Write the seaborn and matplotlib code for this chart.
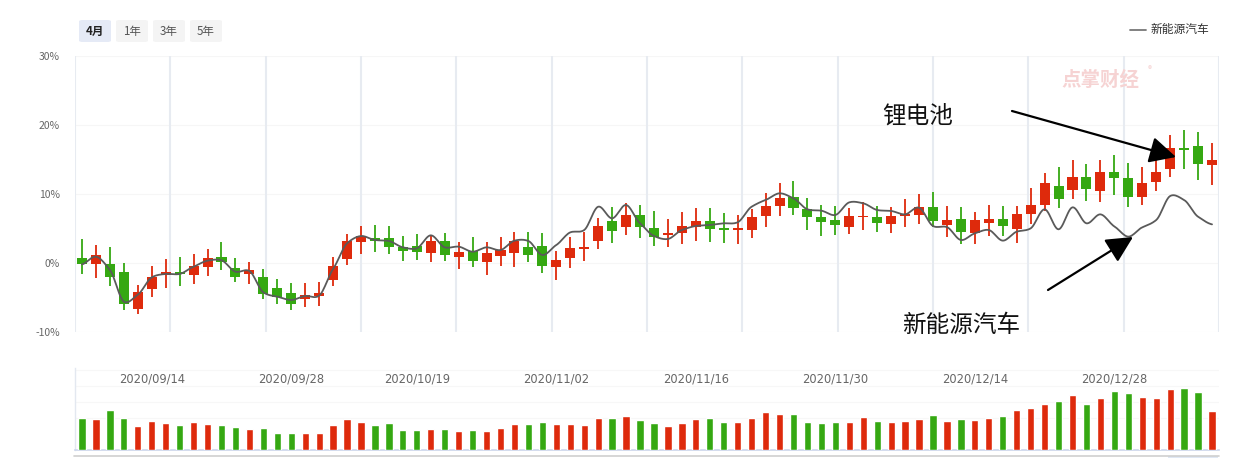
import numpy as np
import pandas as pd
import matplotlib
matplotlib.use("Agg")
import matplotlib.pyplot as plt
import seaborn as sns
from matplotlib.patches import FancyBboxPatch, FancyArrowPatch
from matplotlib.lines import Line2D
import matplotlib.transforms as mtransforms

# ---------------- data ----------------
opens = [0.72, -0.10, -0.14, -1.30, -6.62, -3.72, -1.69, -1.30, -1.69, -0.53,
         0.87, -0.72, -1.55, -2.03, -3.62, -4.35, -5.22, -4.78, -2.42, 0.63,
         3.09, 3.62, 3.62, 2.37, 2.46, 1.50, 3.19, 0.92, 1.74, 0.19,
         1.06, 1.50, 2.32, 2.46, -0.53, 0.77, 2.08, 3.24, 6.09, 5.27,
         6.96, 5.07, 4.11, 4.40, 5.27, 6.09, 5.07, 4.83, 4.83, 6.86,
         8.31, 9.57, 7.83, 6.67, 6.23, 5.27, 6.67, 6.67, 5.70, 6.86,
         7.00, 8.12, 5.56, 6.38, 4.40, 5.84, 6.38, 4.98, 7.15, 8.45,
         11.16, 10.63, 12.46, 10.48, 13.19, 12.32, 9.61, 11.79, 13.67, 16.67,
         16.96, 14.25]
closes = [-0.19, 1.16, -1.98, -5.89, -4.20, -2.03, -1.30, -1.64, -0.43, 0.72,
          0.19, -1.98, -1.06, -4.49, -4.93, -5.89, -4.64, -4.35, -0.43, 3.19,
          3.91, 3.24, 2.37, 1.79, 1.64, 3.19, 1.21, 1.64, 0.34, 1.45,
          1.88, 3.19, 1.21, -0.39, 0.43, 2.17, 2.32, 5.36, 4.69, 6.96,
          5.27, 3.82, 4.40, 5.36, 6.09, 4.98, 4.83, 5.07, 6.67, 8.26,
          9.42, 8.02, 6.72, 5.99, 5.56, 6.81, 6.81, 5.85, 6.81, 7.10,
          8.12, 6.14, 6.23, 4.54, 6.23, 6.38, 5.41, 7.10, 8.41, 11.59,
          9.32, 12.46, 10.77, 13.19, 12.37, 9.61, 11.59, 13.19, 16.67, 16.43,
          14.40, 14.93]
highs = [3.48, 2.61, 2.32, 0.00, -3.24, -0.43, 0.58, 0.87, 1.30, 2.03,
         3.04, 0.72, 0.14, -0.87, -2.32, -2.90, -2.90, -2.70, 0.87, 4.25,
         5.36, 5.51, 5.36, 3.91, 4.20, 3.91, 4.35, 3.04, 3.77, 3.04,
         3.77, 4.49, 4.49, 4.35, 1.79, 3.77, 4.49, 6.52, 8.12, 8.65,
         8.40, 7.54, 6.38, 7.39, 7.97, 7.97, 7.25, 6.96, 7.83, 10.14,
         11.59, 11.88, 9.42, 8.41, 8.26, 7.97, 8.84, 8.26, 8.12, 9.28,
         10.00, 10.29, 8.26, 8.12, 7.39, 8.41, 8.26, 8.26, 10.87, 13.04,
         13.91, 14.93, 14.35, 14.93, 15.65, 14.49, 13.91, 15.36, 18.55, 19.28,
         18.99, 17.39]
lows = [-1.59, -2.17, -3.33, -6.76, -7.44, -4.93, -3.57, -3.29, -3.00, -1.84,
        -1.01, -2.70, -3.00, -5.22, -5.94, -6.76, -6.38, -6.23, -3.33, -0.29,
        1.35, 1.64, 1.35, 0.34, 0.48, 0.19, 0.34, -0.82, -0.53, -1.69,
        -0.39, -0.53, 0.19, -1.40, -2.42, -0.68, 0.34, 2.08, 2.95, 4.11,
        3.67, 2.51, 2.37, 2.80, 3.24, 3.09, 2.95, 2.80, 3.67, 5.27,
        6.86, 7.00, 4.83, 3.96, 4.11, 4.25, 4.83, 4.54, 4.40, 5.27,
        5.70, 5.27, 3.82, 2.80, 2.80, 3.96, 3.96, 2.95, 5.70, 7.58,
        8.02, 9.28, 8.99, 8.84, 9.86, 8.16, 8.45, 10.48, 12.51, 13.67,
        12.08, 11.35]
nev_line = [-0.20, 0.92, -1.00, -5.60, -4.60, -2.08, -1.59, -1.59, -0.53, 0.34,
            0.39, -1.26, -1.16, -4.25, -4.88, -5.36, -4.78, -4.73, -0.87, 2.85,
            3.91, 3.33, 3.19, 2.27, 2.13, 4.01, 2.27, 2.37, 1.64, 2.27,
            1.88, 3.24, 3.19, 1.16, 2.61, 4.44, 4.78, 8.16, 6.47, 8.41,
            5.75, 3.91, 3.48, 4.78, 5.36, 5.51, 5.75, 5.90, 8.16, 9.13,
            10.10, 9.37, 7.78, 7.58, 6.96, 8.79, 8.65, 7.68, 7.54, 7.05,
            8.02, 5.36, 5.20, 3.33, 4.30, 4.78, 3.24, 4.54, 5.02, 7.78,
            4.88, 8.07, 5.75, 7.05, 5.30, 3.82, 5.17, 6.23, 9.71, 9.13,
            6.71, 5.60]
volumes = [96, 93, 120, 96, 72, 87, 81, 75, 84, 78,
           75, 69, 63, 66, 51, 51, 51, 51, 75, 93,
           84, 75, 81, 60, 60, 63, 63, 57, 60, 57,
           66, 78, 78, 84, 78, 78, 75, 96, 96, 102,
           90, 81, 72, 81, 93, 96, 84, 84, 96, 114,
           108, 108, 84, 81, 84, 84, 99, 87, 84, 87,
           93, 105, 87, 93, 90, 96, 102, 120, 126, 138,
           147, 165, 138, 156, 177, 171, 159, 156, 183, 186,
           174, 117]
date_labels = ["2020/09/14", "2020/09/28", "2020/10/19", "2020/11/02",
               "2020/11/16", "2020/11/30", "2020/12/14", "2020/12/28"]
date_index = [5, 15, 24, 34, 44, 54, 64, 74]
y_ticks = [-10, 0, 10, 20, 30]
y_tick_labels = ["-10%", "0%", "10%", "20%", "30%"]
buttons = ["4月", "1年", "3年", "5年"]
legend_name = "新能源汽车"
annot_battery = "锂电池"
annot_nev = "新能源汽车"

# ---------------- style ----------------
RED = "#de2a0c"
GREEN = "#35a812"
W, H = 1240, 458

sns.set_theme(style="white")
plt.rcParams["font.family"] = ["Noto Sans CJK SC", "DejaVu Sans"]

fig = plt.figure(figsize=(W / 100, H / 100), dpi=100)
fig.patch.set_facecolor("white")

def fx(px):
    return px / W

def fy(py):
    return 1 - py / H

n = len(opens)
idx = np.arange(n)
df = pd.DataFrame({"i": idx, "open": opens, "close": closes, "high": highs,
                   "low": lows, "line": nev_line, "vol": volumes})
df["dir"] = np.where(df["close"] >= df["open"], "up", "down")
pal = {"up": RED, "down": GREEN}

# main axes
left, right = 75, 1219
ax = fig.add_axes([fx(left), fy(332), fx(right - left), (332 - 56) / H])
ax.set_xlim(-0.5, n - 0.5)
ax.set_ylim(-10, 30)
for s in ax.spines.values():
    s.set_visible(False)
ax.set_facecolor("none")
ax.set_yticks(y_ticks)
ax.set_yticklabels(y_tick_labels)
ax.tick_params(axis="y", length=0, pad=11, labelsize=7.5, labelcolor="#666666")
ax.set_xticks([])
for yv in y_ticks:
    ax.axhline(yv, color="#f6f6f6", lw=0.8, zorder=0)
for xv in np.linspace(-0.5, n - 0.5, 13):
    ax.axvline(xv, color="#e7ebf1", lw=1.5, zorder=0)

# candles
colors = [pal[d] for d in df["dir"]]
ax.vlines(df["i"], df["low"], df["high"], colors=colors, lw=1.3, zorder=2)
body_lo = np.minimum(df["open"], df["close"])
body_h = np.maximum(np.abs(df["close"] - df["open"]), 0.12)
ax.bar(df["i"], body_h, bottom=body_lo, width=0.72, color=colors, lw=0, zorder=3)

# smooth line (rendering only)
def smooth_curve(y, k=0.75, m=12):
    y = np.asarray(y, float)
    xs, ys = [], []
    for i in range(len(y) - 1):
        p0 = y[i - 1] if i > 0 else y[i]
        p1, p2 = y[i], y[i + 1]
        p3 = y[i + 2] if i + 2 < len(y) else y[i + 1]
        m1 = k * (p2 - p0) / 2
        m2 = k * (p3 - p1) / 2
        t = np.linspace(0, 1, m, endpoint=False)
        h00 = 2 * t**3 - 3 * t**2 + 1
        h10 = t**3 - 2 * t**2 + t
        h01 = -2 * t**3 + 3 * t**2
        h11 = t**3 - t**2
        xs.extend(i + t)
        ys.extend(h00 * p1 + h10 * m1 + h01 * p2 + h11 * m2)
    xs.append(len(y) - 1)
    ys.append(y[-1])
    return np.array(xs), np.array(ys)

sx, sy = smooth_curve(df["line"])
sns.lineplot(x=sx, y=sy, ax=ax, color="#5a5a5a", lw=1.3, zorder=4,
             estimator=None, sort=False)

# volume axes
axv = fig.add_axes([fx(left), fy(450), fx(right - left), (450 - 368) / H])
sns.barplot(data=df, x="i", y="vol", hue="dir", palette=pal, dodge=False,
            width=0.52, legend=False, ax=axv, saturation=1, zorder=3)
axv.set_xlim(-0.5, n - 0.5)
axv.set_ylim(0, 246)
axv.set_xlabel("")
axv.set_ylabel("")
axv.set_xticks([])
axv.set_yticks([])
axv.set_facecolor("none")
for s in ["top", "right"]:
    axv.spines[s].set_visible(False)
axv.spines["left"].set_color("#e3e8f0")
axv.spines["left"].set_linewidth(1.0)
axv.spines["bottom"].set_color("#ccd6eb")
axv.spines["bottom"].set_linewidth(1.2)
for gv in [96, 144, 192, 240]:
    axv.axhline(gv, color="#f7f7f7", lw=0.8, zorder=0)
trans = mtransforms.blended_transform_factory(axv.transData, fig.transFigure)
for lab, pos in zip(date_labels, date_index):
    axv.text(pos, fy(379), lab, transform=trans, ha="center", va="center",
             fontsize=8.3, color="#666666", family="DejaVu Sans")

# bottom slider line
fig.add_artist(Line2D([fx(74), fx(1219)], [fy(455.5), fy(455.5)],
                      color="#cfcfcf", lw=1.2))
fig.add_artist(FancyBboxPatch((fx(1168), 0), fx(50), fy(455.5) - 0.002,
                              boxstyle="square,pad=0", fc="#dfe7f3", ec="none"))

# buttons
bx = [(79, 111), (116, 148), (153, 185), (190, 222)]
for (x0, x1), lab in zip(bx, buttons):
    fc = "#e5eaf6" if lab == "4月" else "#f4f4f4"
    fig.add_artist(FancyBboxPatch((fx(x0), fy(42)), fx(x1 - x0), (42 - 20) / H,
                                  boxstyle="round,pad=0,rounding_size=0.003",
                                  fc=fc, ec="none"))
    fig.text(fx((x0 + x1) / 2), fy(31), lab, ha="center", va="center",
             fontsize=8.3, color="#222222" if lab == "4月" else "#555555",
             fontweight="bold" if lab == "4月" else "normal")

# legend
fig.add_artist(Line2D([fx(1130), fx(1146)], [fy(30), fy(30)], color="#777777", lw=1.3))
fig.text(fx(1151), fy(30), legend_name, ha="left", va="center", fontsize=8.5,
         color="#333333")

# watermark
fig.text(fx(1100), fy(80), "点掌财经", ha="center", va="center", fontsize=14,
         color="#f6d3d3", fontweight="bold", style="italic")
fig.text(fx(1150), fy(70), "®", ha="center", va="center", fontsize=6, color="#f6d3d3")

# annotations
fig.text(fx(918), fy(116), annot_battery, ha="center", va="center", fontsize=17,
         color="#111111")
fig.text(fx(961), fy(325), annot_nev, ha="center", va="center", fontsize=17,
         color="#111111")
arrow_kw = dict(arrowstyle="-|>,head_length=0.9,head_width=0.45", color="black",
                lw=1.6, shrinkA=0, shrinkB=0, mutation_scale=18)
fig.add_artist(FancyArrowPatch(
    (fx(1012), fy(111)), (fx(1176), fy(157)), transform=fig.transFigure, **arrow_kw))
fig.add_artist(FancyArrowPatch(
    (fx(1048), fy(290)), (fx(1133), fy(237)), transform=fig.transFigure, **arrow_kw))

fig.savefig("out.png", dpi=100, facecolor="white")
